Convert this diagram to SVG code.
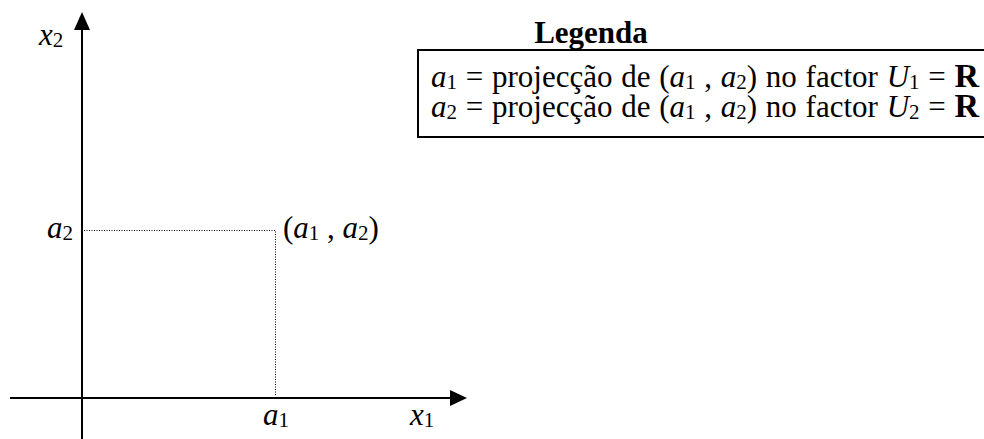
<svg xmlns="http://www.w3.org/2000/svg" width="984" height="439" viewBox="0 0 984 439">
<style>
text{font-family:"Liberation Serif","Times New Roman",serif;font-size:31px;fill:#000}
.i{font-style:italic}
.s{font-size:21px}
.b{font-weight:bold}
.R{font-weight:bold;font-size:34px}
.ln{word-spacing:1px}
.ax{stroke:#000;stroke-width:2;fill:none}
.dot{stroke:#000;stroke-width:1;stroke-dasharray:1 1.5;fill:none}
</style>
<rect width="984" height="439" fill="#fff"/>
<g id="connectors">
<line class="ax" x1="82" y1="439" x2="82" y2="29"/>
<path d="M74,30 L82,12 L90,30 Z" fill="#000"/>
<line class="ax" x1="10" y1="398" x2="451" y2="398"/>
<path d="M450,390 L467,398 L450,406 Z" fill="#000"/>
<polyline class="dot" points="84,230.5 275.5,230.5 275.5,396"/>
</g>
<g id="axis-labels">
<text x="39" y="45"><tspan class="i">x</tspan><tspan class="s" dy="2">2</tspan></text>
<text x="47" y="238"><tspan class="i">a</tspan><tspan class="s" dy="2">2</tspan></text>
<text x="263" y="425"><tspan class="i">a</tspan><tspan class="s" dy="2">1</tspan></text>
<text x="410" y="425"><tspan class="i">x</tspan><tspan class="s" dy="2">1</tspan></text>
</g>
<g id="point">
<text x="283" y="238">(<tspan class="i">a</tspan><tspan class="s" dy="2">1</tspan><tspan dy="-2"> , </tspan><tspan class="i">a</tspan><tspan class="s" dy="2">2</tspan><tspan dy="-2">)</tspan></text>
</g>
<g id="legend">
<text class="b" x="591" y="43" text-anchor="middle">Legenda</text>
<rect x="418" y="50" width="580" height="87" fill="none" stroke="#000" stroke-width="2"/>
<text class="ln" x="431" y="87"><tspan class="i">a</tspan><tspan class="s" dy="2">1</tspan><tspan dy="-2"> = projecção de (</tspan><tspan class="i">a</tspan><tspan class="s" dy="2">1</tspan><tspan dy="-2"> , </tspan><tspan class="i">a</tspan><tspan class="s" dy="2">2</tspan><tspan dy="-2">) no factor </tspan><tspan class="i">U</tspan><tspan class="s" dy="2">1</tspan><tspan dy="-2"> = </tspan><tspan class="R">R</tspan></text>
<text class="ln" x="431" y="117"><tspan class="i">a</tspan><tspan class="s" dy="2">2</tspan><tspan dy="-2"> = projecção de (</tspan><tspan class="i">a</tspan><tspan class="s" dy="2">1</tspan><tspan dy="-2"> , </tspan><tspan class="i">a</tspan><tspan class="s" dy="2">2</tspan><tspan dy="-2">) no factor </tspan><tspan class="i">U</tspan><tspan class="s" dy="2">2</tspan><tspan dy="-2"> = </tspan><tspan class="R">R</tspan></text>
</g>
</svg>
